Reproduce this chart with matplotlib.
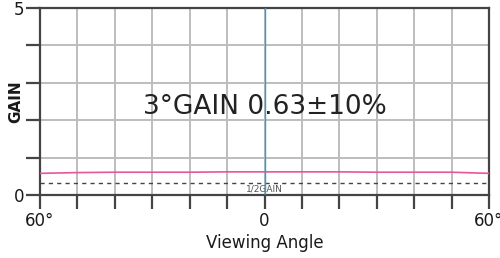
import matplotlib
matplotlib.use('Agg')
import matplotlib.pyplot as plt

# viewing angle (deg) and relative gain
angles = [-60, -50, -40, -30, -20, -10, 0, 10, 20, 30, 40, 50, 60]
gain = [0.58, 0.60, 0.61, 0.61, 0.61, 0.62, 0.62, 0.62, 0.62, 0.61, 0.61, 0.61, 0.58]
half_gain = 0.315

x_ticks = list(range(-60, 61, 10))
x_tick_labels = ['60°' if t == -60 else '0' if t == 0 else '60°' if t == 60 else '' for t in x_ticks]
y_ticks = [0, 1, 2, 3, 4, 5]
y_tick_labels = ['0', '', '', '', '', '5']

title_text = '3°GAIN 0.63±10%'

fig = plt.figure(figsize=(5, 2.58), dpi=100)
ax = fig.add_axes([0.08, 0.244, 0.898, 0.725])

ax.plot(angles, gain, color='#e8559f', linewidth=1.2, zorder=3)
ax.axhline(half_gain, color='#444444', linestyle=(0, (3, 3)), linewidth=1.0, zorder=3)
ax.axvline(0, color='#2a9fd8', linewidth=1.0, zorder=4)

ax.set_xlim(-60, 60)
ax.set_ylim(0, 5)
ax.set_xticks(x_ticks)
ax.set_xticklabels(x_tick_labels)
ax.set_yticks(y_ticks)
ax.set_yticklabels(y_tick_labels)
ax.grid(True, color='#bdbdbd', linewidth=1.4)
ax.set_axisbelow(True)

for s in ax.spines.values():
    s.set_color('#444444')
    s.set_linewidth(1.6)
ax.tick_params(direction='out', length=10, width=1.6, color='#444444',
               labelsize=12, labelcolor='#1a1a1a')
ax.tick_params(axis='y', pad=1.5)
ax.tick_params(axis='x', pad=2)

ax.set_xlabel('Viewing Angle', fontsize=12, color='#1a1a1a', labelpad=3)
ax.set_ylabel('GAIN', fontsize=11, fontweight='bold', color='#1a1a1a')
ax.yaxis.set_label_coords(-0.038, 0.5)

ax.text(0, 2.35, title_text, ha='center', va='center', fontsize=19, color='#222222')
ax.text(0, 0.17, '1/2GAIN', ha='center', va='center', fontsize=6.5, color='#555555')

fig.savefig('out.png', dpi=100)
